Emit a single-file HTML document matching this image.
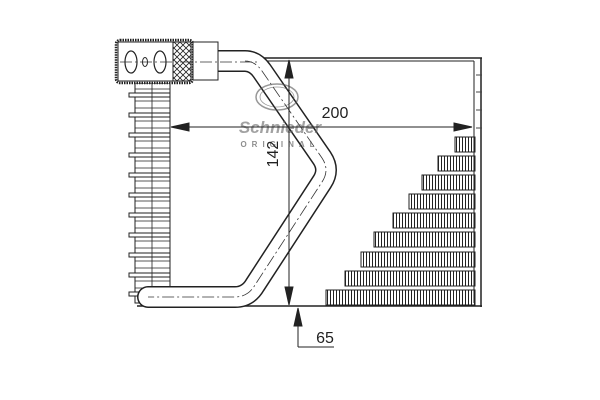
<!DOCTYPE html>
<html><head><style>html,body{margin:0;padding:0;background:#fff}svg{display:block}</style></head>
<body>
<svg width="600" height="400" viewBox="0 0 600 400" xmlns="http://www.w3.org/2000/svg">
<defs>
<pattern id="fin" width="3" height="20" patternUnits="userSpaceOnUse"><rect x="0" y="0" width="1" height="20" fill="#222"/></pattern>
<pattern id="hatch" width="6" height="6" patternUnits="userSpaceOnUse"><path d="M0,0 L6,6 M6,0 L0,6" stroke="#222" stroke-width="0.8"/></pattern>
</defs>
<g stroke="#222" fill="none">
<line x1="258" y1="58" x2="482" y2="58" stroke-width="1.5"/>
<line x1="258" y1="61" x2="474" y2="61" stroke-width="1"/>
<line x1="474" y1="61" x2="474" y2="303" stroke-width="1"/>
<line x1="481" y1="58" x2="481" y2="307" stroke-width="1.5"/>
<line x1="137" y1="306" x2="482" y2="306" stroke-width="1.5"/>
</g>
<g stroke="#444" stroke-width="1">
<line x1="476" y1="75" x2="482" y2="75"/><line x1="476" y1="92" x2="482" y2="92"/><line x1="476" y1="110" x2="482" y2="110"/><line x1="476" y1="128" x2="482" y2="128"/>
</g>
<g stroke="#222" stroke-width="1">
<rect x="455" y="137" width="20" height="15" fill="url(#fin)"/>
<rect x="438" y="156" width="37" height="15" fill="url(#fin)"/>
<rect x="422" y="175" width="53" height="15" fill="url(#fin)"/>
<rect x="409" y="194" width="66" height="15" fill="url(#fin)"/>
<rect x="393" y="213" width="82" height="15" fill="url(#fin)"/>
<rect x="374" y="232" width="101" height="15" fill="url(#fin)"/>
<rect x="361" y="252" width="114" height="15" fill="url(#fin)"/>
<rect x="345" y="271" width="130" height="15" fill="url(#fin)"/>
<rect x="326" y="290" width="149" height="15" fill="url(#fin)"/>
</g>
<g stroke="#222" stroke-width="1" fill="#fff">
<rect x="135" y="83" width="35" height="220"/>
<g stroke-width="0.8">
<line x1="135" y1="89" x2="170" y2="89"/><line x1="135" y1="101" x2="170" y2="101"/><line x1="135" y1="108" x2="170" y2="108"/>
<line x1="135" y1="121" x2="170" y2="121"/><line x1="135" y1="128" x2="170" y2="128"/><line x1="135" y1="141" x2="170" y2="141"/>
<line x1="135" y1="148" x2="170" y2="148"/><line x1="135" y1="161" x2="170" y2="161"/><line x1="135" y1="168" x2="170" y2="168"/>
<line x1="135" y1="181" x2="170" y2="181"/><line x1="135" y1="188" x2="170" y2="188"/><line x1="135" y1="201" x2="170" y2="201"/>
<line x1="135" y1="208" x2="170" y2="208"/><line x1="135" y1="221" x2="170" y2="221"/><line x1="135" y1="228" x2="170" y2="228"/>
<line x1="135" y1="241" x2="170" y2="241"/><line x1="135" y1="248" x2="170" y2="248"/><line x1="135" y1="261" x2="170" y2="261"/>
<line x1="135" y1="268" x2="170" y2="268"/><line x1="135" y1="281" x2="170" y2="281"/><line x1="135" y1="288" x2="170" y2="288"/>
</g>
<rect x="129" y="93" width="41" height="4"/><rect x="129" y="113" width="41" height="4"/><rect x="129" y="133" width="41" height="4"/>
<rect x="129" y="153" width="41" height="4"/><rect x="129" y="173" width="41" height="4"/><rect x="129" y="193" width="41" height="4"/>
<rect x="129" y="213" width="41" height="4"/><rect x="129" y="233" width="41" height="4"/><rect x="129" y="253" width="41" height="4"/>
<rect x="129" y="273" width="41" height="4"/><rect x="129" y="292" width="41" height="4"/>
<line x1="152" y1="83" x2="152" y2="300" stroke-width="0.8"/>
</g>
<!-- pipe -->
<path d="M218,61 L245,61 Q255,61 262,71 L322,158 Q330,170 322,182 L255,285 Q248,297 235,297 L148,297" fill="none" stroke="#222" stroke-width="22" stroke-linejoin="round" stroke-linecap="round"/>
<path d="M218,61 L245,61 Q255,61 262,71 L322,158 Q330,170 322,182 L255,285 Q248,297 235,297 L148,297" fill="none" stroke="#fff" stroke-width="19" stroke-linejoin="round" stroke-linecap="round"/>
<path d="M245,61 Q255,61 262,71 L322,158 Q330,170 322,182 L255,285 Q248,297 235,297 L148,297" fill="none" stroke="#333" stroke-width="0.8" stroke-dasharray="12 3 2 3"/>
<!-- header block -->
<rect x="116" y="40" width="77" height="43" rx="4" fill="#fff" stroke="#222" stroke-width="2.5" stroke-dasharray="1.5 1"/>
<rect x="118" y="42" width="73" height="39" fill="#fff" stroke="#222" stroke-width="1"/>
<rect x="173" y="42" width="18" height="39" fill="url(#hatch)" stroke="#222" stroke-width="1"/>
<ellipse cx="131" cy="62" rx="6" ry="11" fill="none" stroke="#222" stroke-width="1.2"/>
<ellipse cx="145" cy="62" rx="2.5" ry="4.5" fill="none" stroke="#222" stroke-width="1"/>
<ellipse cx="160" cy="62" rx="6" ry="11" fill="none" stroke="#222" stroke-width="1.2"/>
<rect x="193" y="42" width="25" height="38" fill="#fff" stroke="#222" stroke-width="1"/>
<line x1="120" y1="62" x2="258" y2="62" stroke="#333" stroke-width="0.8" stroke-dasharray="12 3 2 3"/>
<!-- logo -->
<g opacity="0.6">
<ellipse cx="277" cy="97" rx="21" ry="13" fill="none" stroke="#555" stroke-width="1.5"/>
<ellipse cx="277" cy="97" rx="17" ry="10" fill="none" stroke="#555" stroke-width="0.8"/>
<text x="280" y="133" font-family="Liberation Sans, sans-serif" font-size="17" font-style="italic" font-weight="bold" fill="#666" text-anchor="middle">Schnieder</text>
<text x="280" y="147" font-family="Liberation Sans, sans-serif" font-size="8" font-weight="bold" fill="#444" text-anchor="middle" letter-spacing="5">ORIGINAL</text>
</g>
<g stroke="#222" stroke-width="1" fill="#222">
<line x1="289" y1="62" x2="289" y2="304"/>
<path d="M289,60 L285,78 L293,78Z"/><path d="M289,305 L285,287 L293,287Z"/>
<line x1="172" y1="127" x2="470" y2="127"/>
<path d="M171,127 L189,123 L189,131Z"/><path d="M472,127 L454,123 L454,131Z"/>
<line x1="298" y1="312" x2="298" y2="347"/>
<path d="M298,308 L294,326 L302,326Z"/>
<line x1="298" y1="347" x2="334" y2="347"/>
</g>
<text x="335" y="118" font-family="Liberation Sans, sans-serif" font-size="16" fill="#222" text-anchor="middle">200</text>
<text x="278" y="154" font-family="Liberation Sans, sans-serif" font-size="16" fill="#222" text-anchor="middle" transform="rotate(-90 278 154)">142</text>
<text x="325" y="343" font-family="Liberation Sans, sans-serif" font-size="16" fill="#222" text-anchor="middle">65</text>
</svg>
</body></html>
